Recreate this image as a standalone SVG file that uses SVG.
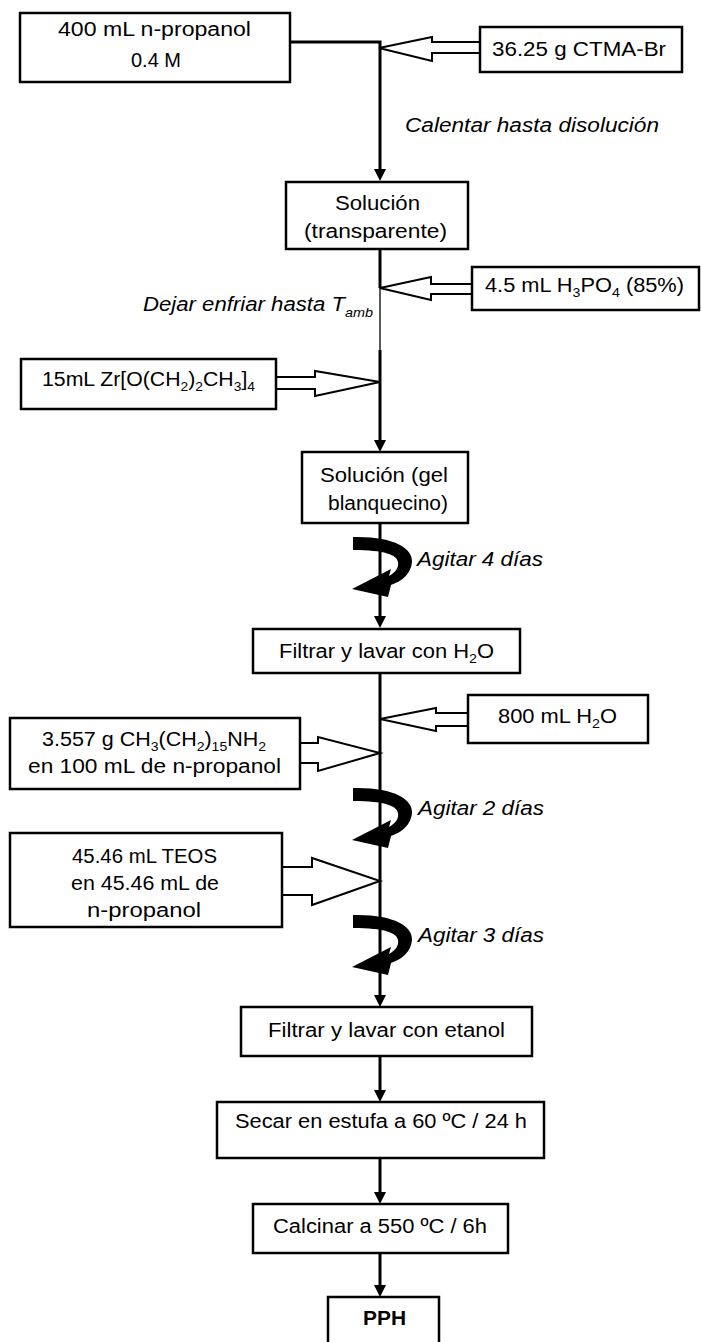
<svg xmlns="http://www.w3.org/2000/svg" xmlns:xlink="http://www.w3.org/1999/xlink" width="701" height="1342" viewBox="0 0 701 1342">
<style>
.box{fill:#fff;stroke:#000;stroke-width:2.5}
.t{font-family:"Liberation Sans",Arial,sans-serif;font-size:20px;fill:#000}
.i{font-family:"Liberation Sans",Arial,sans-serif;font-size:20px;font-style:italic;fill:#000}
.b{font-weight:bold}
.sub{font-size:13px}
.ln{fill:none;stroke:#000;stroke-width:3}
.thin{fill:none;stroke:#000;stroke-width:1.3}
.ha{fill:#fff;stroke:#000;stroke-width:2}
</style>
<defs>
<marker id="ah" markerUnits="userSpaceOnUse" viewBox="0 0 12 12" refX="2" refY="6" markerWidth="12" markerHeight="12" orient="auto">
<path d="M0,0 L12,6 L0,12 Z" fill="#000"/>
</marker>
<path id="curl" d="M353,537 C393,536 413,548 412,562 C411,574 402,581 391,585 L388,597 L352,589 L391,569 L389,576 C396,572 399,567 398,562 C397,555 385,550 353,550 Z" fill="#000"/>
</defs>

<g id="connectors">
<path class="ln" d="M290,42 H380 V171" marker-end="url(#ah)"/>
<path class="ln" d="M380,249 V288"/>
<path class="thin" d="M380,288 V350"/>
<path class="ln" d="M380,350 V442" marker-end="url(#ah)"/>
<path class="ln" d="M380,523 V618" marker-end="url(#ah)"/>
<path class="ln" d="M380,673 V997" marker-end="url(#ah)"/>
<path class="ln" d="M380,1056 V1092" marker-end="url(#ah)"/>
<path class="ln" d="M380,1158 V1194" marker-end="url(#ah)"/>
<path class="ln" d="M380,1253 V1287" marker-end="url(#ah)"/>
<polygon class="ha" points="480,42 432,42 432,37 379,48 432,61 432,53 480,53"/>
<polygon class="ha" points="472,284 431,284 431,277 380,288 431,300 431,294 472,294"/>
<polygon class="ha" points="276,377 315,377 315,371 380,382 315,396 315,389 276,389"/>
<polygon class="ha" points="468,713 436,713 436,708 380,719 436,731 436,726 468,726"/>
<polygon class="ha" points="300,743 318,743 318,737 380,753 318,771 318,763 300,763"/>
<polygon class="ha" points="282,867 312,867 312,858 380,881 312,905 312,895 282,895"/>
<use xlink:href="#curl"/>
<use xlink:href="#curl" transform="translate(0,251)"/>
<use xlink:href="#curl" transform="translate(0,378)"/>
<text class="i" x="405" y="132" textLength="254" lengthAdjust="spacingAndGlyphs">Calentar hasta disolución</text>
<text class="i" x="143" y="311" textLength="230" lengthAdjust="spacingAndGlyphs">Dejar enfriar hasta T<tspan class="sub" dy="6">amb</tspan></text>
<text class="i" x="417" y="566" textLength="126" lengthAdjust="spacingAndGlyphs">Agitar 4 días</text>
<text class="i" x="418" y="815" textLength="126" lengthAdjust="spacingAndGlyphs">Agitar 2 días</text>
<text class="i" x="418" y="942" textLength="126" lengthAdjust="spacingAndGlyphs">Agitar 3 días</text>
</g>

<g id="n-propanol">
<rect class="box" x="20" y="13" width="270" height="69"/>
<text class="t" x="58" y="36" textLength="193" lengthAdjust="spacingAndGlyphs">400 mL n-propanol</text>
<text class="t" x="156" y="67" text-anchor="middle">0.4 M</text>
</g>
<g id="ctma">
<rect class="box" x="480" y="27" width="202" height="45"/>
<text class="t" x="492" y="56" textLength="174" lengthAdjust="spacingAndGlyphs">36.25 g CTMA-Br</text>
</g>
<g id="sol-transparente">
<rect class="box" x="286" y="182" width="182" height="67"/>
<text class="t" x="335" y="210" textLength="85" lengthAdjust="spacingAndGlyphs">Solución</text>
<text class="t" x="304" y="238" textLength="143" lengthAdjust="spacingAndGlyphs">(transparente)</text>
</g>
<g id="h3po4">
<rect class="box" x="472" y="267" width="227" height="43"/>
<text class="t" x="485" y="292" textLength="199" lengthAdjust="spacingAndGlyphs">4.5 mL H<tspan class="sub" dy="5">3</tspan><tspan dy="-5">PO</tspan><tspan class="sub" dy="5">4</tspan><tspan dy="-5"> (85%)</tspan></text>
</g>
<g id="zr">
<rect class="box" x="21" y="359" width="255" height="50"/>
<text class="t" x="42" y="386" textLength="213" lengthAdjust="spacingAndGlyphs">15mL Zr[O(CH<tspan class="sub" dy="5">2</tspan><tspan dy="-5">)</tspan><tspan class="sub" dy="5">2</tspan><tspan dy="-5">CH</tspan><tspan class="sub" dy="5">3</tspan><tspan dy="-5">]</tspan><tspan class="sub" dy="5">4</tspan></text>
</g>
<g id="sol-gel">
<rect class="box" x="302" y="452" width="166" height="71"/>
<text class="t" x="320" y="482" textLength="128" lengthAdjust="spacingAndGlyphs">Solución (gel</text>
<text class="t" x="328" y="510" textLength="120" lengthAdjust="spacingAndGlyphs">blanquecino)</text>
</g>
<g id="filtrar-h2o">
<rect class="box" x="253" y="629" width="267" height="44"/>
<text class="t" x="279" y="658" textLength="215" lengthAdjust="spacingAndGlyphs">Filtrar y lavar con H<tspan class="sub" dy="5">2</tspan><tspan dy="-5">O</tspan></text>
</g>
<g id="h2o-800">
<rect class="box" x="468" y="695" width="180" height="48"/>
<text class="t" x="498" y="723" textLength="119" lengthAdjust="spacingAndGlyphs">800 mL H<tspan class="sub" dy="5">2</tspan><tspan dy="-5">O</tspan></text>
</g>
<g id="amina">
<rect class="box" x="10" y="718" width="290" height="71"/>
<text class="t" x="42" y="746" textLength="224" lengthAdjust="spacingAndGlyphs">3.557 g CH<tspan class="sub" dy="5">3</tspan><tspan dy="-5">(CH</tspan><tspan class="sub" dy="5">2</tspan><tspan dy="-5">)</tspan><tspan class="sub" dy="5">15</tspan><tspan dy="-5">NH</tspan><tspan class="sub" dy="5">2</tspan></text>
<text class="t" x="28" y="773" textLength="253" lengthAdjust="spacingAndGlyphs">en 100 mL de n-propanol</text>
</g>
<g id="teos">
<rect class="box" x="10" y="833" width="272" height="94"/>
<text class="t" x="72" y="863" textLength="145" lengthAdjust="spacingAndGlyphs">45.46 mL TEOS</text>
<text class="t" x="71" y="890" textLength="148" lengthAdjust="spacingAndGlyphs">en 45.46 mL de</text>
<text class="t" x="87" y="917" textLength="114" lengthAdjust="spacingAndGlyphs">n-propanol</text>
</g>
<g id="filtrar-etanol">
<rect class="box" x="241" y="1007" width="291" height="49"/>
<text class="t" x="268" y="1037" textLength="237" lengthAdjust="spacingAndGlyphs">Filtrar y lavar con etanol</text>
</g>
<g id="secar">
<rect class="box" x="217" y="1102" width="327" height="56"/>
<text class="t" x="235" y="1128" textLength="292" lengthAdjust="spacingAndGlyphs">Secar en estufa a 60 ºC / 24 h</text>
</g>
<g id="calcinar">
<rect class="box" x="253" y="1204" width="255" height="49"/>
<text class="t" x="273" y="1233" textLength="214" lengthAdjust="spacingAndGlyphs">Calcinar a 550 ºC / 6h</text>
</g>
<g id="pph">
<rect class="box" x="328" y="1297" width="111" height="55"/>
<text class="t b" x="363" y="1325" textLength="43" lengthAdjust="spacingAndGlyphs">PPH</text>
</g>
</svg>
